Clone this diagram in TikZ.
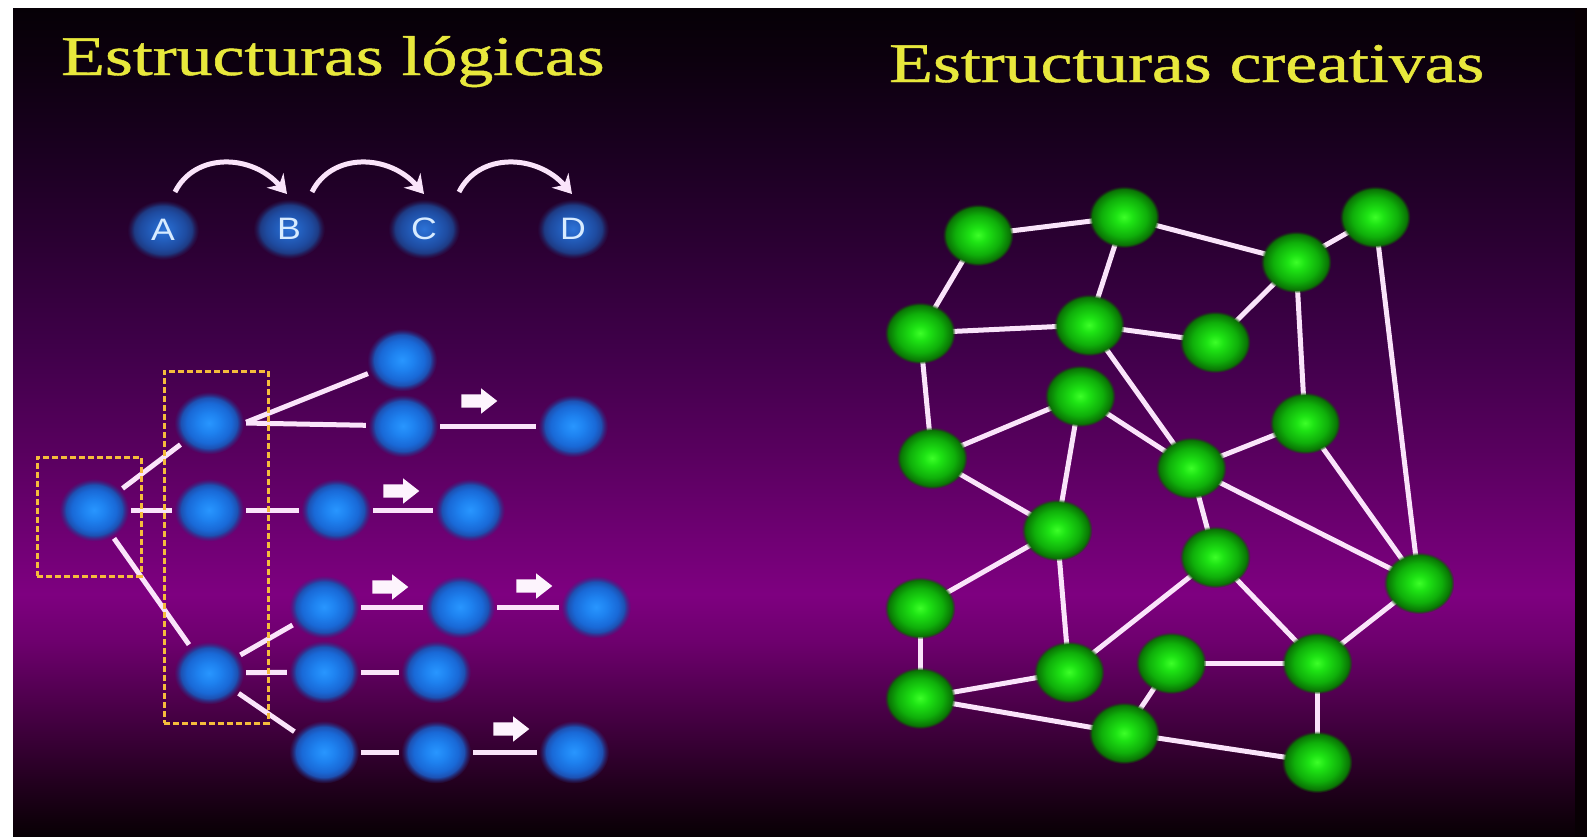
\documentclass[tikz,border=0pt]{standalone}
\usepackage{fontspec}
\setmainfont{Liberation Serif}
\setsansfont{Liberation Sans}
\newfontfamily\titlefont{Liberation Serif}[FakeBold=0.8]
\usepackage{graphicx}
\usetikzlibrary{shapes.geometric,shapes.arrows,arrows.meta,fadings,calc}

\definecolor{edgecol}{RGB}{250,228,250}
\definecolor{boxcol}{RGB}{245,188,60}
\definecolor{titlecol}{RGB}{232,232,60}
\definecolor{lettercol}{RGB}{215,235,255}
\definecolor{bl1}{RGB}{40,150,255}
\definecolor{bl2}{RGB}{30,130,240}
\definecolor{bl3}{RGB}{25,105,215}
\definecolor{bl4}{RGB}{30,75,170}
\definecolor{bl5}{RGB}{45,45,130}
\definecolor{db1}{RGB}{45,115,215}
\definecolor{db2}{RGB}{35,95,190}
\definecolor{db3}{RGB}{30,75,160}
\definecolor{db4}{RGB}{30,55,125}
\definecolor{db5}{RGB}{40,30,90}
\definecolor{gr1}{RGB}{60,255,40}
\definecolor{gr2}{RGB}{30,228,20}
\definecolor{gr3}{RGB}{15,175,10}
\definecolor{gr4}{RGB}{10,120,5}
\definecolor{gr5}{RGB}{20,70,10}
\definecolor{bg0}{RGB}{8,0,4}
\definecolor{bg1}{RGB}{36,0,32}
\definecolor{bg2}{RGB}{78,0,76}
\definecolor{bg3}{RGB}{110,0,110}
\definecolor{bg4}{RGB}{126,0,128}
\definecolor{bg5}{RGB}{112,0,116}
\definecolor{bg6}{RGB}{88,0,94}
\definecolor{bg7}{RGB}{64,0,74}
\definecolor{bg8}{RGB}{44,0,52}
\definecolor{bg9}{RGB}{26,0,32}
\definecolor{bg10}{RGB}{12,0,14}
\definecolor{bg11}{RGB}{6,0,6}

\pgfdeclareverticalshading{bgshade}{100bp}{color(0bp)=(bg0); color(25bp)=(bg0); color(28.4bp)=(bg1); color(33.2bp)=(bg2); color(36.8bp)=(bg3); color(39.6bp)=(bg4); color(42.9bp)=(bg5); color(48.3bp)=(bg6); color(54.3bp)=(bg7); color(60.4bp)=(bg8); color(66.4bp)=(bg9); color(71.9bp)=(bg10); color(75bp)=(bg11); color(100bp)=(bg11)}
\pgfdeclareradialshading{bluesh}{\pgfpointorigin}{color(0bp)=(bl1); color(8bp)=(bl2); color(16bp)=(bl3); color(21bp)=(bl4); color(25bp)=(bl5); color(50bp)=(bl5)}
\pgfdeclareradialshading{darkbluesh}{\pgfpointorigin}{color(0bp)=(db1); color(8bp)=(db2); color(16bp)=(db3); color(21bp)=(db4); color(25bp)=(db5); color(50bp)=(db5)}
\pgfdeclareradialshading{greensh}{\pgfpointorigin}{color(0bp)=(gr1); color(6bp)=(gr2); color(16bp)=(gr3); color(22bp)=(gr4); color(25bp)=(gr5); color(50bp)=(gr5)}

\pgfdeclarelayer{bglayer}
\pgfdeclarelayer{edgelayer}
\pgfsetlayers{bglayer,edgelayer,main}

\tikzset{
  bnode/.style={ellipse, minimum width=70pt, minimum height=63pt, inner sep=0pt, shade, shading=bluesh, path fading=circle with fuzzy edge 20 percent},
  abc/.style={bnode, shading=darkbluesh, minimum width=72pt, minimum height=60pt, text=lettercol, font=\sffamily\fontsize{31}{31}\selectfont},
  gnode/.style={ellipse, minimum width=71pt, minimum height=62pt, inner sep=0pt, shade, shading=greensh, path fading=circle with fuzzy edge 10 percent},
  link/.style={draw=edgecol, line width=5pt},
  tlink/.style={link, shorten <=2pt, shorten >=2pt},
  blockarrow/.style={single arrow, fill=edgecol!40!white, inner sep=6.5pt, minimum height=36pt, single arrow head extend=6pt, single arrow tip angle=76},
  dbox/.style={draw=boxcol, line width=3pt, dash pattern=on 6pt off 3pt, inner sep=0pt},
  curvearrow/.style={draw=edgecol, line width=5pt, -{Stealth[length=18pt,width=22pt,inset=6pt]}},
  title/.style={inner sep=0pt, text=titlecol, font=\titlefont\fontsize{56}{60}\selectfont}
}

\begin{document}
\begin{tikzpicture}[x=1pt,y=-1pt]
\useasboundingbox (0,0) rectangle (1587,836);
\begin{pgfonlayer}{bglayer}
\fill[white] (0,0) rectangle (1587,836);
\shade[shading=bgshade] (13,8) rectangle (1587,836);
\fill[bg0] (1575,8) rectangle (1587,836);
\end{pgfonlayer}

% titles
\node[title, anchor=base west] (t1) at (61,75) {\scalebox{1.28}[1]{Estructuras lógicas}};
\node[title, anchor=base west] (t2) at (889,82) {\scalebox{1.28}[1]{Estructuras creativas}};

% A B C D
\node[abc] (A) at (163,230) {\scalebox{1.15}[1]{A}};
\node[abc] (B) at (289,229) {\scalebox{1.15}[1]{B}};
\node[abc] (C) at (424,229) {\scalebox{1.15}[1]{C}};
\node[abc] (D) at (573,229) {\scalebox{1.15}[1]{D}};
\coordinate (ab1) at ($(A)+(12,-38)$);
\coordinate (ab2) at ($(B)+(-2,-35)$);
\coordinate (bc1) at ($(B)+(23,-37)$);
\coordinate (bc2) at ($(C)+(0,-35)$);
\coordinate (cd1) at ($(C)+(35,-37)$);
\coordinate (cd2) at ($(D)+(-1,-35)$);
\draw[curvearrow] (ab1) .. controls +(20,-40) and +(-35,-40) .. (ab2);
\draw[curvearrow] (bc1) .. controls +(20,-40) and +(-35,-40) .. (bc2);
\draw[curvearrow] (cd1) .. controls +(20,-40) and +(-35,-40) .. (cd2);

% tree
\node[bnode] (R) at (94,510) {};
\node[bnode] (A1) at (209,423) {};
\node[bnode] (A2) at (209,510) {};
\node[bnode] (A3) at (209,673) {};
\node[bnode] (T0) at (402,360) {};
\node[bnode] (r1a) at (403,426) {};
\node[bnode] (r1b) at (573,426) {};
\node[bnode] (r2a) at (336,510) {};
\node[bnode] (r2b) at (470,510) {};
\node[bnode] (r3a) at (324,607) {};
\node[bnode] (r3b) at (460,607) {};
\node[bnode] (r3c) at (596,607) {};
\node[bnode] (r4a) at (324,672) {};
\node[bnode] (r4b) at (436,672) {};
\node[bnode] (r5a) at (324,752) {};
\node[bnode] (r5b) at (436,752) {};
\node[bnode] (r5c) at (574,752) {};

\begin{pgfonlayer}{edgelayer}
\draw[tlink] (R) -- (A1);
\draw[tlink] (R) -- (A2);
\draw[tlink] (R) -- (A3);
\draw[tlink] (A1.east) -- (T0);
\draw[tlink] (A1.east) -- (r1a);
\draw[tlink] (r1a) -- (r1b);
\draw[tlink] (A2) -- (r2a);
\draw[tlink] (r2a) -- (r2b);
\draw[tlink] (A3) -- (r3a);
\draw[tlink] (r3a) -- (r3b);
\draw[tlink] (r3b) -- (r3c);
\draw[tlink] (A3) -- (r4a);
\draw[tlink] (r4a) -- (r4b);
\draw[tlink] (A3) -- (r5a);
\draw[tlink] (r5a) -- (r5b);
\draw[tlink] (r5b) -- (r5c);
\end{pgfonlayer}

\node[blockarrow] (ar1) at (475,401) {};
\node[blockarrow] (ar2) at (397,491) {};
\node[blockarrow] (ar3) at (386,587) {};
\node[blockarrow] (ar4) at (530,586) {};
\node[blockarrow] (ar5) at (507,729) {};

\node[dbox, minimum width=104pt, minimum height=119pt] (box1) at (89,516.5) {};
\node[dbox, minimum width=104pt, minimum height=352pt] (box2) at (216,547) {};

% creative graph
\node[gnode] (g1) at (978,235) {};
\node[gnode] (g2) at (1124,217) {};
\node[gnode] (g3) at (1375,217) {};
\node[gnode] (g4) at (1296,262) {};
\node[gnode] (g5) at (920,333) {};
\node[gnode] (g6) at (1089,325) {};
\node[gnode] (g7) at (1215,342) {};
\node[gnode] (g8) at (1080,396) {};
\node[gnode] (g9) at (1305,423) {};
\node[gnode] (g10) at (932,458) {};
\node[gnode] (g11) at (1191,468) {};
\node[gnode] (g12) at (1057,530) {};
\node[gnode] (g13) at (1215,557) {};
\node[gnode] (g14) at (1419,583) {};
\node[gnode] (g15) at (920,608) {};
\node[gnode] (g16) at (1069,672) {};
\node[gnode] (g17) at (1171,663) {};
\node[gnode] (g18) at (1317,663) {};
\node[gnode] (g19) at (920,698) {};
\node[gnode] (g20) at (1124,733) {};
\node[gnode] (g21) at (1317,762) {};

\begin{pgfonlayer}{edgelayer}
\foreach \a/\b in {g1/g2, g2/g4, g4/g3, g1/g5, g2/g6, g5/g6, g6/g7, g7/g4, g4/g9, g3/g14,
  g6/g11, g5/g10, g10/g8, g8/g11, g8/g12, g10/g12, g9/g11, g9/g14, g11/g14, g11/g13,
  g12/g15, g12/g16, g13/g16, g13/g18, g14/g18, g17/g18, g15/g19, g19/g16, g19/g20,
  g17/g20, g18/g21, g20/g21}
  \draw[link] (\a.center) -- (\b.center);
\end{pgfonlayer}
\end{tikzpicture}
\end{document}
